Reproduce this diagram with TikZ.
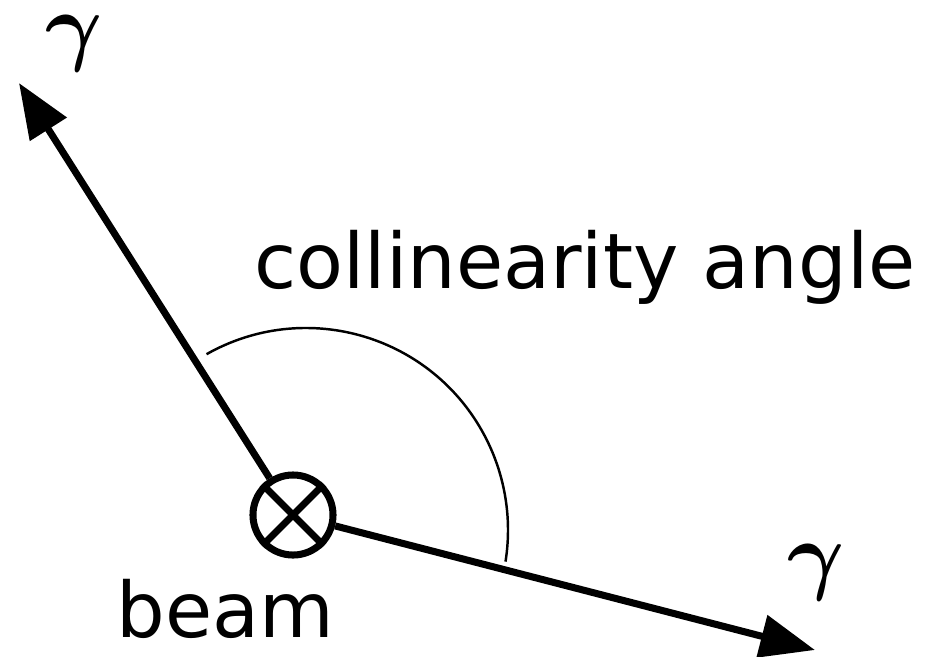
\documentclass[tikz,border=0pt]{standalone}
\usepackage{amsmath}
\usepackage{fontspec}
\setmainfont{DejaVu Sans}
\usetikzlibrary{arrows.meta}
\begin{document}
\begin{tikzpicture}[x=0.01cm, y=0.01cm, line width=2pt,
        lbl/.style = {font=\fontsize{21.8}{26}\selectfont, inner sep=0pt},
        gam/.style = {font=\fontsize{23}{28}\selectfont, inner sep=0pt},
        ray/.style = {-{Triangle[length=15.6pt, width=12pt]}}]
        \useasboundingbox (0,0) rectangle (930,656);
        \node[draw, circle, minimum size=0.8cm, inner sep=0pt] (beam) at (293,141) {};
        \draw (beam.45) -- (beam.225) (beam.135) -- (beam.-45);
        \coordinate (up) at (19,573);
        \coordinate (down) at (815,6);
        \draw[ray] (beam) -- (up);
        \draw[ray] (beam) -- (down);
        \draw[line width=0.7pt] (306,126) ++(119.5:202) arc[start angle=119.5, end angle=-9, radius=202];
        \node[lbl, anchor=base west] (angle) at (251,368) {collinearity angle};
        \node[lbl, anchor=base west] (beamlbl) at (113,19) {beam};
        \node[gam] (g1) at (74,612) {$\boldsymbol{\gamma}$};
        \node[gam] (g2) at (816,83) {$\boldsymbol{\gamma}$};
    \end{tikzpicture}
\end{document}
